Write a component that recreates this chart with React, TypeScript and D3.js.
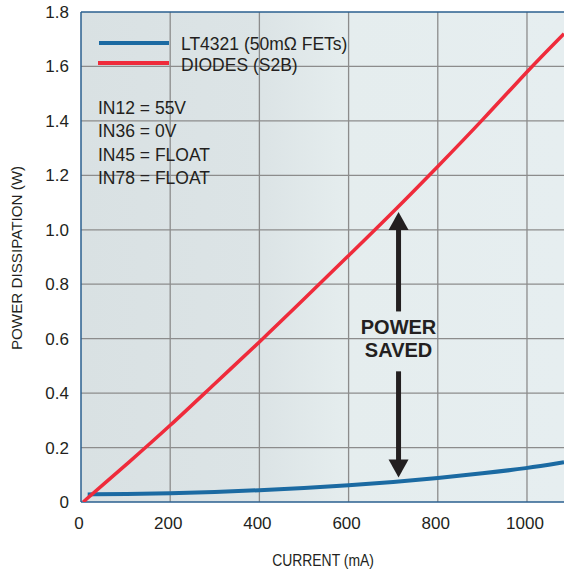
import React from "react";
import * as d3 from "d3";

const ledCurrent = [15, 100, 200, 300, 400, 500, 600, 700, 800, 900, 1000, 1083];
const ledPower = [0.028, 0.029, 0.032, 0.037, 0.043, 0.051, 0.061, 0.073, 0.088, 0.105, 0.124, 0.146];
const diodeCurrent = [5, 50, 100, 200, 300, 400, 500, 600, 700, 800, 900, 1000, 1083];
const diodePower = [0, 0.065, 0.135, 0.28, 0.435, 0.587, 0.745, 0.905, 1.065, 1.232, 1.402, 1.582, 1.72];
const xTicks = [0, 200, 400, 600, 800, 1000];
const yTicks = [0, 0.2, 0.4, 0.6, 0.8, 1.0, 1.2, 1.4, 1.6, 1.8];
const seriesNames = ["LT4321 (50mΩ FETs)", "DIODES (S2B)"];
const conditions = ["IN12 = 55V", "IN36 = 0V", "IN45 = FLOAT", "IN78 = FLOAT"];
const arrowX = 712;
const arrowUp = [1.065, 0.7];
const arrowDown = [0.48, 0.09];

const W = 564, H = 571;
const L = 81, R = 564, T = 12, B = 502;
const FONT = "'Liberation Sans', Arial, sans-serif";
const BLUE = "#1b6aa2";
const RED = "#ef2b3b";
const FRAME = "#2a5f8f";
const GRID = "#8c8c8c";
const DARK = "#231f20";

export default function App() {
  const x = d3.scaleLinear().domain([0, 1083]).range([L, R]);
  const y = d3.scaleLinear().domain([0, 1.8]).range([B, T]);
  const line = d3
    .line<[number, number]>()
    .x((d) => x(d[0]))
    .y((d) => y(d[1]))
    .curve(d3.curveBasis);
  const ledPts = ledCurrent.map((c, i) => [c, ledPower[i]] as [number, number]);
  const diodePts = diodeCurrent.map((c, i) => [c, diodePower[i]] as [number, number]);

  const ax = x(arrowX);
  const upTip = y(arrowUp[0]);
  const upEnd = y(arrowUp[1]);
  const dnStart = y(arrowDown[0]);
  const dnTip = y(arrowDown[1]);
  const headH = 18, headW = 10;

  return (
    <svg
      width={W}
      height={H}
      style={{ position: "absolute", left: 0, top: 0, background: "#fff" }}
    >
      <defs>
        <linearGradient id="bg" x1="0" x2="1" y1="0" y2="0">
          <stop offset="0%" stopColor="#d9e1e3" />
          <stop offset="38%" stopColor="#dce4e6" />
          <stop offset="55%" stopColor="#e5edee" />
          <stop offset="100%" stopColor="#e6eef0" />
        </linearGradient>
        <clipPath id="plot">
          <rect x={L} y={T} width={R - L} height={B - T} />
        </clipPath>
      </defs>
      <rect x={L} y={T} width={R - L} height={B - T} fill="url(#bg)" />
      {yTicks.slice(1, -1).map((t) => (
        <line key={"gy" + t} x1={L} x2={R} y1={y(t)} y2={y(t)} stroke={GRID} strokeWidth={1.3} />
      ))}
      {xTicks.slice(1).map((t) => (
        <line key={"gx" + t} x1={x(t)} x2={x(t)} y1={T} y2={B} stroke={GRID} strokeWidth={1.3} />
      ))}
      <line x1={L} x2={R} y1={T} y2={T} stroke={FRAME} strokeWidth={1.5} />
      <line x1={L} x2={L} y1={T} y2={B} stroke={FRAME} strokeWidth={1.5} />
      <line x1={L} x2={R} y1={B} y2={B} stroke={FRAME} strokeWidth={1.5} />

      <g clipPath="url(#plot)">
        <path d={line(ledPts) || ""} fill="none" stroke={BLUE} strokeWidth={4} />
        <path d={line(diodePts) || ""} fill="none" stroke={RED} strokeWidth={3.5} />
      </g>

      {/* legend */}
      <line x1={99} x2={169} y1={43} y2={43} stroke={BLUE} strokeWidth={4} />
      <line x1={98} x2={169} y1={63} y2={63} stroke={RED} strokeWidth={4} />
      <text x={181} y={49.5} fontFamily={FONT} fontSize={17.5} fill={DARK}>{seriesNames[0]}</text>
      <text x={181} y={70.5} fontFamily={FONT} fontSize={17.5} fill={DARK}>{seriesNames[1]}</text>
      {conditions.map((c, i) => (
        <text key={c} x={98} y={114 + i * 23.3} fontFamily={FONT} fontSize={17.5} fill={DARK}>{c}</text>
      ))}

      {/* power saved annotation */}
      <line x1={ax} x2={ax} y1={upTip + headH - 1} y2={upEnd} stroke={DARK} strokeWidth={5} />
      <path d={`M${ax},${upTip} L${ax - headW},${upTip + headH} L${ax + headW},${upTip + headH} Z`} fill={DARK} />
      <line x1={ax} x2={ax} y1={dnStart} y2={dnTip - headH + 1} stroke={DARK} strokeWidth={5} />
      <path d={`M${ax},${dnTip} L${ax - headW},${dnTip - headH} L${ax + headW},${dnTip - headH} Z`} fill={DARK} />
      <text x={ax} y={334} textAnchor="middle" fontFamily={FONT} fontWeight="bold" fontSize={20} fill={DARK}>POWER</text>
      <text x={ax} y={357} textAnchor="middle" fontFamily={FONT} fontWeight="bold" fontSize={20} fill={DARK}>SAVED</text>

      {/* axes labels */}
      {yTicks.map((t) => (
        <text key={"yl" + t} x={69} y={y(t) + 6} textAnchor="end" fontFamily={FONT} fontSize={17} fill={DARK}>
          {t === 0 ? "0" : t.toFixed(1)}
        </text>
      ))}
      {xTicks.map((t) => (
        <text key={"xl" + t} x={x(t) - 2} y={529} textAnchor="middle" fontFamily={FONT} fontSize={17} fill={DARK}>
          {t}
        </text>
      ))}
      <text
        transform="translate(323,566) scale(0.87,1)"
        textAnchor="middle"
        fontFamily={FONT}
        fontSize={16}
        fill={DARK}
      >
        CURRENT (mA)
      </text>
      <text
        transform={`translate(22,258) rotate(-90)`}
        textAnchor="middle"
        fontFamily={FONT}
        fontSize={15.2}
        fill={DARK}
      >
        POWER DISSIPATION (W)
      </text>
    </svg>
  );
}
